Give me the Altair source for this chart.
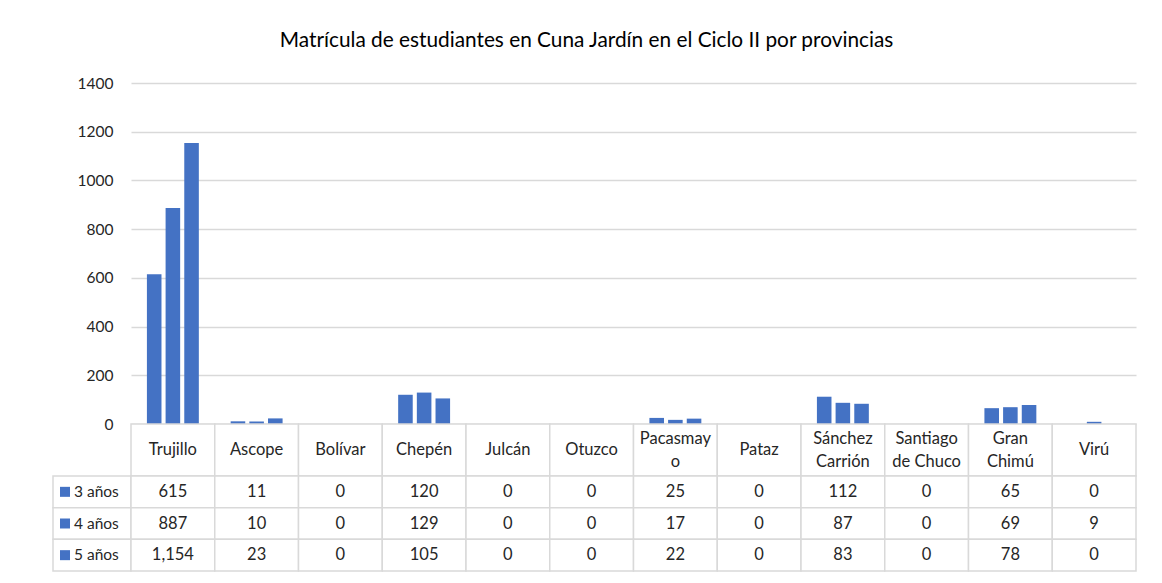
import altair as alt
import pandas as pd

titulo = "Matrícula de estudiantes en Cuna Jardín en el Ciclo II por provincias"
provincias = ["Trujillo", "Ascope", "Bolívar", "Chepén", "Julcán", "Otuzco",
              "Pacasmayo", "Pataz", "Sánchez Carrión", "Santiago de Chuco",
              "Gran Chimú", "Virú"]
encabezados = ["Trujillo", "Ascope", "Bolívar", "Chepén", "Julcán", "Otuzco",
               "Pacasmay\no", "Pataz", "Sánchez\nCarrión", "Santiago\nde Chuco",
               "Gran\nChimú", "Virú"]
series = ["3 años", "4 años", "5 años"]
v3 = [615, 11, 0, 120, 0, 0, 25, 0, 112, 0, 65, 0]
v4 = [887, 10, 0, 129, 0, 0, 17, 0, 87, 0, 69, 9]
v5 = [1154, 23, 0, 105, 0, 0, 22, 0, 83, 0, 78, 0]
y_ticks = [0, 200, 400, 600, 800, 1000, 1200, 1400]

rows = []
for s, vals in zip(series, [v3, v4, v5]):
    for p, v in zip(provincias, vals):
        rows.append({"provincia": p, "serie": s, "valor": v})
df = pd.DataFrame(rows)
hdr = pd.DataFrame({"provincia": provincias, "etiqueta": encabezados})
ser = pd.DataFrame({"serie": series})
blank = pd.DataFrame({"a": [0]})

BLUE = "#4472C4"
GRID = "#D9D9D9"
TXT = "#262626"
FONT = "Lato"
FS = 16.5
LH = 23
W, H, HH, TH, LW = 1005, 341, 52, 95, 78

x_bar = alt.X("provincia:N", sort=provincias,
              scale=alt.Scale(paddingInner=0.38, paddingOuter=0.19), axis=None)
bars = alt.Chart(df).mark_bar(color=BLUE).encode(
    x=x_bar,
    xOffset=alt.XOffset("serie:N", sort=series,
                        scale=alt.Scale(paddingInner=0.22, paddingOuter=0)),
    y=alt.Y("valor:Q", scale=alt.Scale(domain=[0, 1400], nice=False),
            axis=alt.Axis(values=y_ticks, format="d", title=None, domain=False,
                          ticks=False, grid=True, gridColor=GRID, gridWidth=1.3,
                          labelPadding=18, labelFontSize=15.5, labelColor=TXT,
                          labelFont=FONT)),
).properties(width=W, height=H)

x_tab = alt.X("provincia:N", sort=provincias,
              scale=alt.Scale(paddingInner=0, paddingOuter=0), axis=None)
y_tab = alt.Y("serie:N", sort=series,
              scale=alt.Scale(paddingInner=0, paddingOuter=0), axis=None)

multi = "indexof(datum.etiqueta, '\\n') >= 0"
hdr_cells = alt.Chart(hdr).mark_rect(fill="white", stroke=GRID, strokeWidth=1.5).encode(x=x_tab)
hdr_one = alt.Chart(hdr).transform_filter("!(" + multi + ")").mark_text(
    font=FONT, fontSize=FS, color=TXT).encode(x=x_tab, text="etiqueta:N")
hdr_two = alt.Chart(hdr).transform_filter(multi).mark_text(
    font=FONT, fontSize=FS, color=TXT, lineBreak="\n", lineHeight=LH,
    dy=-LH / 2).encode(x=x_tab, text="etiqueta:N")
header = (hdr_cells + hdr_one + hdr_two).properties(width=W, height=HH)

cells = alt.Chart(df).mark_rect(fill="white", stroke=GRID, strokeWidth=1.5).encode(x=x_tab, y=y_tab)
vals = alt.Chart(df).mark_text(font=FONT, fontSize=FS, color=TXT).encode(
    x=x_tab, y=y_tab, text=alt.Text("valor:Q", format=","))
table = (cells + vals).properties(width=W, height=TH)

lab_cells = alt.Chart(ser).mark_rect(fill="white", stroke=GRID, strokeWidth=1.5).encode(y=y_tab)
lab_sq = alt.Chart(ser).mark_square(color=BLUE, size=100, opacity=1).encode(
    y=y_tab, x=alt.value(12))
lab_txt = alt.Chart(ser).mark_text(align="left", font=FONT, fontSize=15.5, color=TXT).encode(
    y=y_tab, x=alt.value(21), text="serie:N")
labels = (lab_cells + lab_sq + lab_txt).properties(width=LW, height=TH)

sp1 = alt.Chart(blank).mark_point(opacity=0).properties(width=LW, height=H)
sp2 = alt.Chart(blank).mark_point(opacity=0).properties(width=LW, height=HH)

chart = alt.concat(
    sp1, bars, sp2, header, labels, table,
    columns=2, spacing=0, bounds="flush", align="each",
    title=alt.Title(titulo, font=FONT, fontSize=20.8, fontWeight="normal",
                    color="#000000", anchor="middle", dx=-8, offset=24),
).properties(
    padding={"left": 44, "top": 22, "right": 5, "bottom": 5}
).configure_view(stroke=None)

chart.save("out.html", embed_options={"renderer": "svg", "actions": False})
